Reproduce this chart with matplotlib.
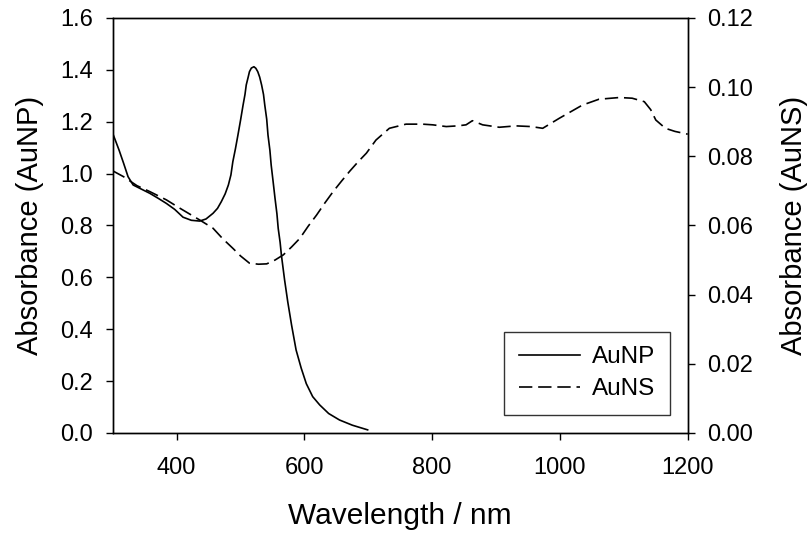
import matplotlib
matplotlib.use("Agg")
import matplotlib.pyplot as plt
import numpy as np

plt.rcParams['font.family'] = ['Liberation Sans', 'DejaVu Sans']

aunp_wl = [300, 310, 317, 324, 332, 345, 358, 371, 384, 397, 410, 423, 436, 446, 457, 464, 470, 476, 481,
           485, 488, 492, 496, 500, 504, 507, 509, 512, 514, 517, 521, 524, 527, 530, 533, 536, 538, 541,
           543, 546, 548, 551, 554, 557, 559, 562, 564, 569, 574, 580, 587, 595,
           603, 613, 624, 638, 655, 675, 699]
aunp_abs = [1.155, 1.09, 1.04, 0.988, 0.956, 0.94, 0.924, 0.905, 0.885, 0.862, 0.832, 0.82, 0.817, 0.825,
            0.847, 0.866, 0.892, 0.922, 0.956, 0.995, 1.046, 1.095, 1.149, 1.205, 1.264, 1.305, 1.342,
            1.372, 1.393, 1.407, 1.412, 1.406, 1.393, 1.372, 1.342, 1.305, 1.264, 1.21, 1.149, 1.09,
            1.033, 0.97, 0.905, 0.845, 0.789, 0.735, 0.686, 0.59, 0.505, 0.415, 0.32, 0.25, 0.19, 0.14,
            0.108, 0.075, 0.05, 0.03, 0.012]

ausn_wl = [300, 317, 338, 358, 384, 405, 436, 457, 472, 488, 500, 514, 528, 541, 554, 567, 580, 593, 606,
           619, 632, 645, 658, 671, 684, 697, 712, 733, 759, 785, 801, 822, 840, 853, 863, 879, 905,
           931, 955, 973, 999, 1035, 1061, 1093, 1113, 1132, 1142, 1150, 1165, 1180, 1200]
ausn_abs = [0.0758, 0.0741, 0.0715, 0.0698, 0.0674, 0.0650, 0.0616, 0.0592, 0.0562, 0.0534, 0.0512,
            0.0491, 0.0488, 0.0489, 0.0500, 0.0515, 0.0538, 0.0563, 0.0598, 0.0630, 0.0665, 0.0698,
            0.0728, 0.0757, 0.0784, 0.0809, 0.0847, 0.0881, 0.0893, 0.0893, 0.0891, 0.0886, 0.0888,
            0.0891, 0.0903, 0.0891, 0.0884, 0.0888, 0.0886, 0.0881, 0.0910, 0.0948, 0.0965, 0.0970,
            0.0968, 0.0958, 0.0935, 0.0905, 0.0881, 0.0872, 0.0864]

fig = plt.figure(figsize=(8.11, 5.35), dpi=100)
ax = fig.add_axes([0.139, 0.1907, 0.709, 0.7757])
ax2 = ax.twinx()

l1, = ax.plot(aunp_wl, aunp_abs, color='black', lw=1.2, label='AuNP')
l2, = ax2.plot(ausn_wl, ausn_abs, color='black', lw=1.2, dashes=(8, 3.5), label='AuNS')

ax.set_xlim(300, 1200)
ax.set_ylim(0, 1.6)
ax2.set_ylim(0, 0.12)
ax.set_xticks([400, 600, 800, 1000, 1200])
ax.set_yticks(np.arange(0, 1.61, 0.2))
ax.set_yticklabels([f"{v:.1f}" for v in np.arange(0, 1.61, 0.2)])
ax2.set_yticks(np.arange(0, 0.121, 0.02))
ax2.set_yticklabels([f"{v:.2f}" for v in np.arange(0, 0.121, 0.02)])

for a in (ax, ax2):
    a.tick_params(direction='out', length=5, width=1, labelsize=17)
    for s in a.spines.values():
        s.set_linewidth(1)
ax.tick_params(axis='y', pad=9)
ax2.tick_params(axis='y', pad=9)
ax.tick_params(axis='x', pad=12)

ax.set_xlabel('Wavelength / nm', fontsize=21.5, labelpad=17)
ax.set_ylabel('Absorbance (AuNP)', fontsize=21, labelpad=12)
ax2.set_ylabel('Absorbance (AuNS)', fontsize=21, labelpad=19)

leg = ax.legend(handles=[l1, l2], loc='lower right', bbox_to_anchor=(0.9687, 0.0434),
                borderaxespad=0, fontsize=17.5, frameon=True, fancybox=False, edgecolor='black',
                handlelength=2.5, handletextpad=0.5, borderpad=0.6, labelspacing=0.42)
leg.get_frame().set_linewidth(1)

fig.savefig('out.png', dpi=100)
